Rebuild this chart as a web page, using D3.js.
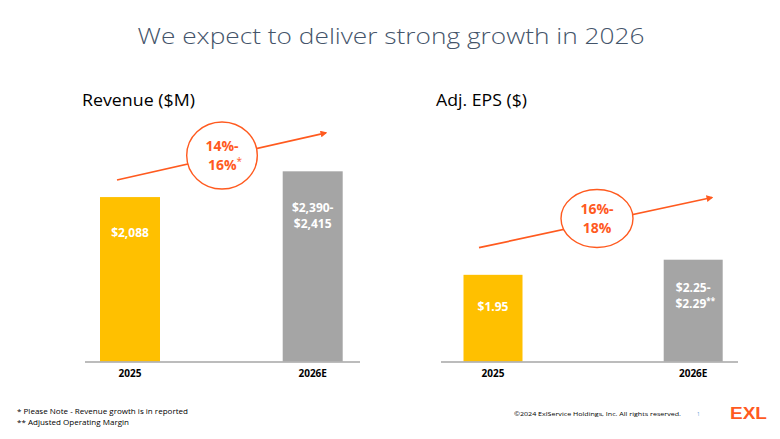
<!DOCTYPE html>
<html>
<head>
<meta charset="utf-8">
<script src="https://cdn.jsdelivr.net/npm/d3@7"></script>
<style>
  html, body { margin: 0; padding: 0; background: #ffffff; }
  svg { display: block; }
</style>
</head>
<body>
<svg id="chart" width="780" height="439"></svg>
<script>
// ---- data ----
const categories = ["2025", "2026E"];
const revenueValues = [2088, 2415];
const revenueLabels = [["$2,088"], ["$2,390-", "$2,415"]];
const epsValues = [1.95, 2.29];
const epsLabels = [["$1.95"], ["$2.25-", "$2.29**"]];
const revenueGrowth = ["14%-", "16%*"];
const epsGrowth = ["16%-", "18%"];
const titleText = "We expect to deliver strong growth in 2026";
const footnotes = ["* Please Note - Revenue growth is in reported", "** Adjusted Operating Margin"];

// ---- style ----
const YELLOW = "#FFC000", GREY = "#A5A5A5", ORANGE = "#FF5A1F", AXIS = "#A6A6A6";
const FONT = "'Open Sans', 'Liberation Sans', sans-serif";

const svg = d3.select("#chart");
svg.append("rect").attr("width", 780).attr("height", 439).attr("fill", "#fff");

svg.append("defs").append("marker")
  .attr("id", "arrow").attr("viewBox", "0 0 10 10")
  .attr("refX", 8).attr("refY", 5)
  .attr("markerWidth", 4).attr("markerHeight", 4)
  .attr("orient", "auto")
  .append("path").attr("d", "M0,0 L10,5 L0,10 Z").attr("fill", ORANGE);

// title
svg.append("text").attr("x", 391).attr("y", 44)
  .attr("text-anchor", "middle")
  .attr("font-family", FONT).attr("font-weight", 300)
  .attr("font-size", 22.5).attr("fill", "#44546A")
  .attr("textLength", 507).attr("lengthAdjust", "spacingAndGlyphs")
  .text(titleText);

function panel(cfg) {
  const g = svg.append("g");
  const x = d3.scalePoint().domain(categories).range(cfg.xRange);
  const y = d3.scaleLinear().domain(cfg.yDomain).range(cfg.yRange);
  const base = y(0);

  g.append("text").attr("x", cfg.titleX).attr("y", 106)
    .attr("font-family", FONT).attr("font-size", 17).attr("fill", "#000")
    .attr("textLength", cfg.titleW).attr("lengthAdjust", "spacingAndGlyphs")
    .text(cfg.title);

  // bars
  g.selectAll("rect.bar").data(cfg.values).join("rect")
    .attr("class", "bar")
    .attr("x", (d, i) => x(categories[i]) - cfg.bw / 2)
    .attr("width", cfg.bw)
    .attr("y", d => y(d))
    .attr("height", d => base - y(d))
    .attr("fill", (d, i) => i === 0 ? YELLOW : GREY);

  // axis baseline
  g.append("line").attr("x1", cfg.axisRange[0]).attr("x2", cfg.axisRange[1])
    .attr("y1", base + 0.5).attr("y2", base + 0.5)
    .attr("stroke", AXIS).attr("stroke-width", 1.6);

  // category labels
  g.selectAll("text.cat").data(categories).join("text")
    .attr("class", "cat")
    .attr("x", d => x(d)).attr("y", base + 15.5)
    .attr("text-anchor", "middle")
    .attr("font-family", FONT).attr("font-weight", 700).attr("font-size", 10)
    .attr("fill", "#000").text(d => d);

  // value labels
  cfg.labels.forEach((lines, i) => {
    const t = g.append("text")
      .attr("text-anchor", "middle")
      .attr("font-family", FONT).attr("font-weight", 700).attr("font-size", 12)
      .attr("fill", "#fff");
    lines.forEach((ln, k) => {
      const m = ln.match(/^(.*?)(\*+)$/);
      const ts = t.append("tspan").attr("x", x(categories[i]) + (m ? 2 : 0))
        .attr("y", cfg.labelY[i] + k * 16);
      if (m) {
        ts.text(m[1]);
        t.append("tspan").attr("dy", -4).attr("font-size", 8).text(m[2]);
      } else ts.text(ln);
    });
  });

  // growth arrow
  const a = cfg.arrow;
  g.append("line").attr("x1", a[0]).attr("y1", a[1]).attr("x2", a[2]).attr("y2", a[3])
    .attr("stroke", ORANGE).attr("stroke-width", 1.7)
    .attr("marker-end", "url(#arrow)");

  const c = cfg.circle;
  g.append("ellipse").attr("cx", c[0]).attr("cy", c[1]).attr("rx", c[2]).attr("ry", c[3])
    .attr("fill", "#fff").attr("stroke", ORANGE).attr("stroke-width", 1.4);

  cfg.growth.forEach((ln, k) => {
    const m = ln.match(/^(.*?)(\*+)$/);
    const t = g.append("text").attr("x", c[0]).attr("y", c[1] - 5 + k * 19.5)
      .attr("text-anchor", "middle")
      .attr("font-family", FONT).attr("font-weight", 700).attr("font-size", 14)
      .attr("fill", ORANGE);
    if (m) {
      t.attr("x", c[0] + 3);
      t.append("tspan").text(m[1]);
      t.append("tspan").attr("dy", -5).attr("font-size", 10).attr("font-weight", 400).text(m[2]);
    } else t.text(ln);
  });
}

panel({
  title: "Revenue ($M)", titleX: 82, titleW: 113,
  values: revenueValues, labels: revenueLabels, growth: revenueGrowth,
  xRange: [130, 312.7], bw: 60, axisRange: [85, 360],
  yDomain: [0, 2800], yRange: [361.5, 141],
  labelY: [237, 212],
  arrow: [117, 180, 326, 132.8],
  circle: [222, 155.5, 35.3, 33.5]
});

panel({
  title: "Adj. EPS ($)", titleX: 436, titleW: 91,
  values: epsValues, labels: epsLabels, growth: epsGrowth,
  xRange: [493, 693.2], bw: 59, axisRange: [441, 738],
  yDomain: [0, 4], yRange: [361.5, 183.7],
  labelY: [311, 292],
  arrow: [479, 247.7, 712, 197.5],
  circle: [597, 218.5, 36, 29]
});

// footnotes
const footW = [171, 112];
svg.selectAll("text.foot").data(footnotes).join("text")
  .attr("class", "foot")
  .attr("x", 17).attr("y", (d, i) => 414 + i * 11)
  .attr("font-family", FONT).attr("font-size", 7.5).attr("fill", "#000")
  .attr("textLength", (d, i) => footW[i]).attr("lengthAdjust", "spacingAndGlyphs")
  .text(d => d);

svg.append("text").attr("x", 514).attr("y", 416)
  .attr("font-family", FONT).attr("font-size", 5).attr("fill", "#000")
  .attr("textLength", 167).attr("lengthAdjust", "spacingAndGlyphs")
  .text("©2024 ExlService Holdings, Inc. All rights reserved.");
svg.append("text").attr("x", 697).attr("y", 416)
  .attr("font-family", FONT).attr("font-size", 5).attr("fill", "#5B9BD5")
  .text("1");

svg.append("text").attr("x", 730).attr("y", 418.5)
  .attr("font-family", "'Liberation Sans', Arial, sans-serif").attr("font-weight", 700)
  .attr("font-size", 16).attr("fill", ORANGE)
  .attr("textLength", 37).attr("lengthAdjust", "spacingAndGlyphs")
  .text("EXL");
</script>
</body>
</html>
